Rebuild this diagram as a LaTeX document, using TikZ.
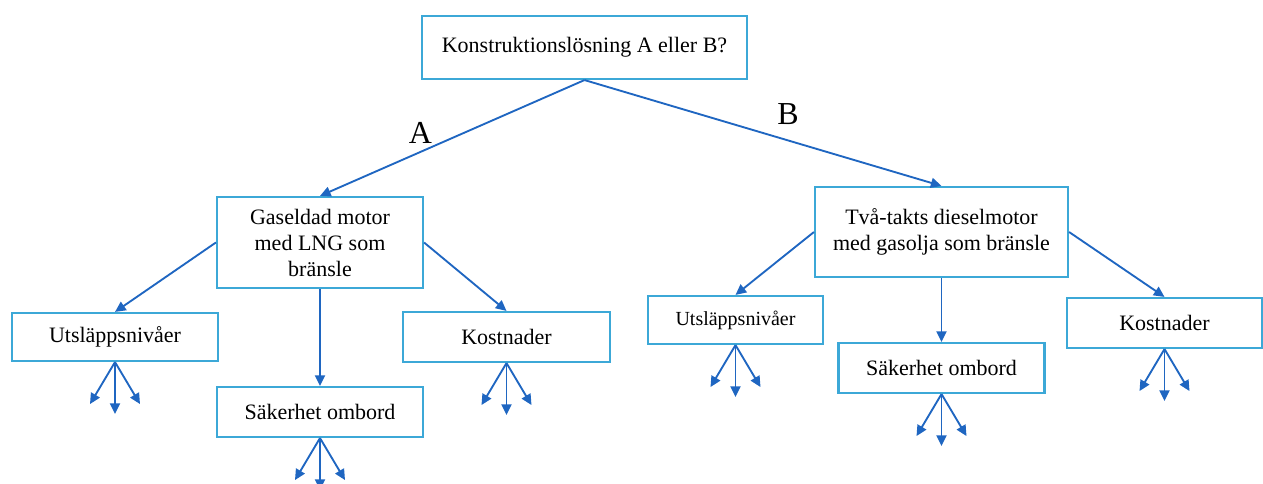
\documentclass[tikz,border=0pt]{standalone}
\usepackage{fontspec}
\setmainfont{Liberation Serif}
\usetikzlibrary{arrows.meta, positioning}
\definecolor{boxblue}{RGB}{60,168,215}
\definecolor{linkblue}{RGB}{31,102,193}

\begin{document}
\begin{tikzpicture}[
  x=0.75pt, y=-0.75pt,
  box/.style={rectangle, draw=boxblue, line width=1.6pt, fill=white,
              align=center, inner sep=2pt, font=\fontsize{16.5}{19.5}\selectfont},
  choice/.style={font=\fontsize{24}{24}\selectfont, inner sep=0pt},
  arrow/.style={-{Triangle[length=8pt, width=7.5pt]}, draw=linkblue, line width=1.4pt}
]
\useasboundingbox (0,0) rectangle (1263,484);

\node[box, minimum width=243.75pt, minimum height=47.25pt] (question) at (584.5,47.5) {Konstruktionslösning A eller B?};

% alternativ A
\node[box, minimum width=154.5pt, minimum height=68.25pt] (gasA) at (320,242.5) {Gaseldad motor\\med LNG som\\bränsle};
\node[box, minimum width=154.5pt, minimum height=36pt] (utsA) at (115,337) {Utsläppsnivåer};
\node[box, minimum width=154.5pt, minimum height=37.5pt] (sakA) at (320,412) {Säkerhet ombord};
\node[box, minimum width=155.25pt, minimum height=37.5pt] (kosA) at (506.5,337) {Kostnader};

% alternativ B
\node[box, minimum width=189.75pt, minimum height=67.5pt] (dieselB) at (941.5,232) {Två-takts dieselmotor\\med gasolja som bränsle};
\node[box, minimum width=131.25pt, minimum height=36pt, font=\fontsize{15}{18}\selectfont] (utsB) at (735.5,320) {Utsläppsnivåer};
\node[box, minimum width=154.5pt, minimum height=37.5pt] (sakB) at (941.5,368) {Säkerhet ombord};
\node[box, minimum width=146.25pt, minimum height=37.5pt] (kosB) at (1164.5,323) {Kostnader};

\draw[arrow] (question.south) -- node[choice, pos=0.62, yshift=14pt] (labelA) {A} (gasA.north);
\draw[arrow] (question.south) -- node[choice, pos=0.57, yshift=20pt] (labelB) {B} (dieselB.north);
\draw[arrow] (gasA.west) -- (utsA.north);
\draw[arrow] (gasA.south) -- (sakA.north);
\draw[arrow] (gasA.east) -- (kosA.north);
\draw[arrow] (dieselB.west) -- (utsB.north);
\draw[arrow] (dieselB.south) -- (sakB.north);
\draw[arrow] (dieselB.east) -- (kosB.north);

% fler kriterier under varje ruta
\foreach \b in {utsA,sakA,kosA,utsB,sakB,kosB}{
  \coordinate (\b-l) at ([shift={(-25,42)}]\b.south);
  \coordinate (\b-m) at ([shift={(0,52)}]\b.south);
  \coordinate (\b-r) at ([shift={(25,42)}]\b.south);
  \draw[arrow] (\b.south) -- (\b-l);
  \draw[arrow] (\b.south) -- (\b-m);
  \draw[arrow] (\b.south) -- (\b-r);
}

\end{tikzpicture}
\end{document}
